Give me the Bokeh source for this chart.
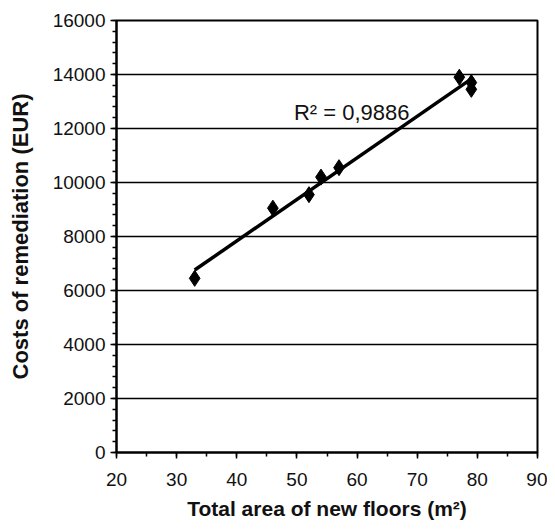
import numpy as np
from bokeh.plotting import figure
from bokeh.models import Range1d, SingleIntervalTicker, Label
from bokeh.embed import file_html
from bokeh.resources import INLINE

# Data
area_m2 = [33, 46, 52, 54, 57, 77, 79, 79]
cost_eur = [6450, 9050, 9550, 10200, 10550, 13900, 13700, 13450]
r2_text = "R\u00b2 = 0,9886"
x_label = "Total area of new floors (m\u00b2)"
y_label = "Costs of remediation (EUR)"

FONT = "Liberation Sans"

p = figure(width=547, height=524, output_backend="svg", toolbar_location=None,
           x_range=Range1d(20, 90), y_range=Range1d(0, 16000),
           min_border_left=116, min_border_right=10, min_border_top=20,
           min_border_bottom=72)
p.background_fill_color = "white"
p.border_fill_color = "white"
p.outline_line_color = "black"
p.outline_line_width = 2

# axes
p.xaxis.ticker = SingleIntervalTicker(interval=10, num_minor_ticks=2)
p.yaxis.ticker = SingleIntervalTicker(interval=2000, num_minor_ticks=5)
for ax in (p.xaxis[0], p.yaxis[0]):
    ax.axis_line_color = "black"
    ax.axis_line_width = 2
    ax.major_tick_line_color = "black"
    ax.major_tick_line_width = 1.5
    ax.minor_tick_line_color = "black"
    ax.minor_tick_line_width = 1.5
    ax.major_tick_in = 0
    ax.major_tick_out = 6
    ax.minor_tick_in = 0
    ax.minor_tick_out = 4
    ax.major_label_text_font = FONT
    ax.major_label_text_font_size = "19px"
    ax.major_label_text_color = "#111111"
    ax.axis_label_text_font = FONT
    ax.axis_label_text_font_style = "bold"
    ax.axis_label_text_color = "#111111"
p.xaxis.axis_label_text_font_size = "21px"
p.yaxis.axis_label_text_font_size = "22px"
p.xaxis.major_label_standoff = 14
p.xaxis.axis_label_standoff = 8
p.yaxis.major_label_standoff = 5
p.yaxis.axis_label_standoff = 17
p.xaxis.axis_label = x_label
p.yaxis.axis_label = y_label

p.xgrid.grid_line_color = None
p.ygrid.grid_line_color = "black"
p.ygrid.grid_line_width = 1.3

# trend line (least squares fit of the data)
slope, intercept = np.polyfit(area_m2, cost_eur, 1)
xs = [min(area_m2), max(area_m2)]
ys = [slope * x + intercept for x in xs]
p.line(xs, ys, line_color="black", line_width=3.5)

p.scatter(area_m2, cost_eur, marker="diamond", size=16, fill_color="black",
          line_color="black")

p.add_layout(Label(x=49.5, y=12600, text=r2_text, text_font=FONT,
                   text_font_size="22px", text_color="#111111",
                   text_baseline="alphabetic"))

open("out.html", "w").write(file_html(p, INLINE))
